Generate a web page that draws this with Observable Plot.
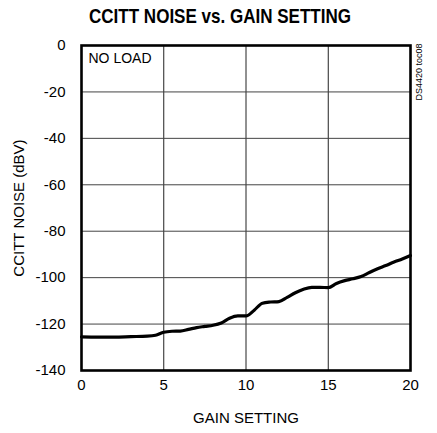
<!DOCTYPE html>
<html><head><meta charset="utf-8">
<script src="https://cdn.jsdelivr.net/npm/d3@7"></script>
<script src="https://cdn.jsdelivr.net/npm/@observablehq/plot@0.6"></script>
<style>
body{margin:0;background:#fff;}
#titlewrap{width:437px;height:34px;position:relative;overflow:visible;}
#title{position:absolute;left:0;top:4px;white-space:nowrap;font-family:"Liberation Sans",Arial,sans-serif;font-weight:bold;font-size:21px;line-height:24px;color:#000;transform-origin:0 0;}
</style></head>
<body>
<div id="titlewrap"><span id="title">CCITT NOISE vs. GAIN SETTING</span></div>
<div id="chart"></div>
<script>
const gain = [0,1,2,3,4,4.5,5,5.5,6,6.5,7,7.5,8,8.5,9,9.5,10,10.5,11,11.5,12,12.5,13,13.5,14,14.5,15,15.5,16,16.5,17,17.5,18,18.5,19,19.5,20];
const noise = [-125.5,-125.6,-125.6,-125.4,-125.2,-124.8,-123.5,-123.1,-123,-122.3,-121.5,-121,-120.5,-119.5,-117.5,-116.5,-116.5,-114,-111,-110.5,-110.3,-108.5,-106.5,-105,-104.2,-104.2,-104.3,-102.5,-101.3,-100.5,-99.5,-97.8,-96.2,-94.8,-93.3,-92,-90.5];
const xTicks = [0,5,10,15,20];
const yTicks = [0,-20,-40,-60,-80,-100,-120,-140];
const data = gain.map((g,i)=>({g, n: noise[i]}));
const font = '"Liberation Sans",Arial,sans-serif';
const fmt = d => String(d);

const chart = Plot.plot({
  width: 437, height: 399,
  marginTop: 11, marginBottom: 63, marginLeft: 81, marginRight: 27,
  style: {fontFamily: font, fontSize: "14px", color: "#000", background: "#fff"},
  x: {domain: [0,20]},
  y: {domain: [-140,0]},
  marks: [
    Plot.gridX(xTicks.slice(1,-1), {stroke: "#222", strokeOpacity: 1, strokeWidth: 1}),
    Plot.gridY(yTicks.slice(1,-1), {stroke: "#444", strokeOpacity: 1, strokeWidth: 1}),
    Plot.axisX(xTicks, {tickSize: 0, tickPadding: 9, fontSize: 15, tickFormat: fmt, label: "GAIN SETTING", labelAnchor: "center", labelOffset: 52, labelArrow: "none"}),
    Plot.axisY(yTicks, {tickSize: 0, tickPadding: 16, fontSize: 15, tickFormat: fmt, label: "CCITT NOISE (dBV)", labelAnchor: "center", labelOffset: 68, labelArrow: "none"}),
    Plot.line(data, {x: "g", y: "n", stroke: "#000", strokeWidth: 3.2, curve: "monotone-x"}),
    Plot.frame({stroke: "#000", strokeWidth: 2.6}),
    Plot.text(["NO LOAD"], {frameAnchor: "top-left", dx: 7, dy: 8, fontSize: 14, textAnchor: "start"}),
    Plot.text(["DS4420 toc08"], {frameAnchor: "top-right", dx: 5, dy: -2, rotate: -90, fontSize: 9, fill: "#000"})
  ]
});
document.getElementById("chart").appendChild(chart);
const t = document.getElementById("title");
const w = t.getBoundingClientRect().width;
const target = 262;
const s = target / w;
t.style.left = ((437 - target) / 2 + 1) + "px";
t.style.transform = `scaleX(${s})`;
</script>
</body></html>
